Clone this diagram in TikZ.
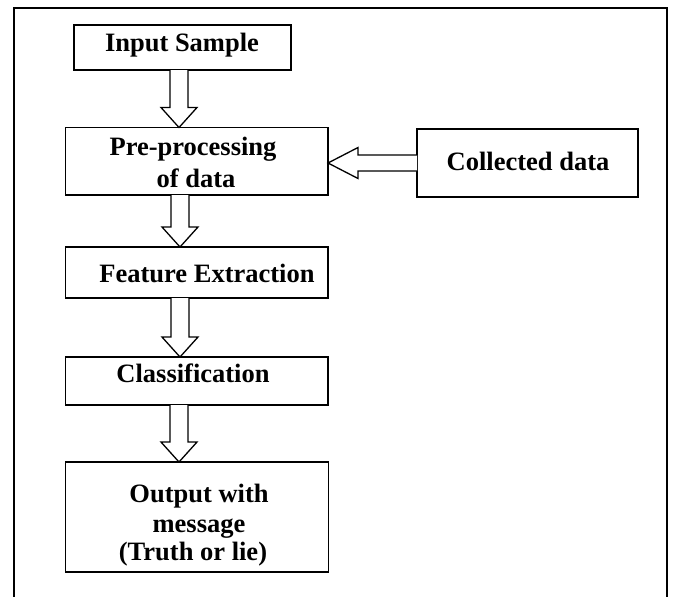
\documentclass[tikz,border=0pt]{standalone}
\usepackage{fontspec}
\setmainfont{Liberation Serif}
\usetikzlibrary{calc}

\tikzset{
  stagebox/.style={draw, line width=1.8pt, inner sep=0pt, outer sep=0pt, anchor=north west},
  caption/.style={font=\bfseries\fontsize{26.5}{30}\selectfont, inner sep=0pt, anchor=base},
  hollowarrow/.style={draw, line width=1.3pt, line join=miter, fill=white},
  frameline/.style={draw, line width=2pt}
}

% Hollow block arrow pointing down, axis at x = #3
\newcommand{\flowdown}[3]{%
  \path[hollowarrow] let \p1=(#1.south), \p2=(#2.north) in
    ({#3pt-9pt},\y1) -- ({#3pt-9pt},{\y2+20pt}) -- ({#3pt-18pt},{\y2+20pt})
    -- ({#3pt},\y2) -- ({#3pt+18pt},{\y2+20pt}) -- ({#3pt+9pt},{\y2+20pt})
    -- ({#3pt+9pt},\y1);}

\begin{document}
\begin{tikzpicture}[x=1pt,y=-1pt]
  \useasboundingbox (0,0) rectangle (673,597);

  % outer frame, open at the bottom
  \path[frameline] (13.5,597) -- (13.5,7.5) -- (667,7.5) -- (667,597);

  % stage boxes
  \node[stagebox, minimum width=217pt, minimum height=45pt] (inp) at (74,25) {};
  \node[stagebox, minimum width=262.5pt, minimum height=67.5pt] (pre) at (65.5,127.5) {};
  \node[stagebox, minimum width=221pt, minimum height=68pt] (col) at (417,129) {};
  \node[stagebox, minimum width=262.5pt, minimum height=51pt] (fe) at (65.5,247) {};
  \node[stagebox, minimum width=262.5pt, minimum height=48pt] (cls) at (65.5,357) {};
  \node[stagebox, minimum width=263pt, minimum height=110pt] (out) at (65.5,462) {};

  % box captions
  \node[caption] (tinp) at (182,52) {Input Sample};
  \node[caption] (tpre1) at (193,155) {Pre-processing};
  \node[caption] (tpre2) at (196,187) {of data};
  \node[caption] (tcol) at (528,170) {Collected data};
  \node[caption] (tfe) at (207,282) {Feature Extraction};
  \node[caption] (tcls) at (193,382) {Classification};
  \node[caption] (tout1) at (199,502) {Output with};
  \node[caption] (tout2) at (199,532) {message};
  \node[caption] (tout3) at (193,560) {(Truth or lie)};

  % downward flow
  \flowdown{inp}{pre}{179}
  \flowdown{pre}{fe}{180}
  \flowdown{fe}{cls}{180}
  \flowdown{cls}{out}{179}

  % collected data feeding the pre-processing stage
  \path[hollowarrow] let \p1=(col.west), \p2=(pre.east) in
    (\x1,{\y1-8pt}) -- ({\x2+30pt},{\y1-8pt}) -- ({\x2+30pt},{\y1-15.5pt})
    -- (\x2,\y1) -- ({\x2+30pt},{\y1+15.5pt}) -- ({\x2+30pt},{\y1+8pt})
    -- (\x1,{\y1+8pt});
\end{tikzpicture}
\end{document}
